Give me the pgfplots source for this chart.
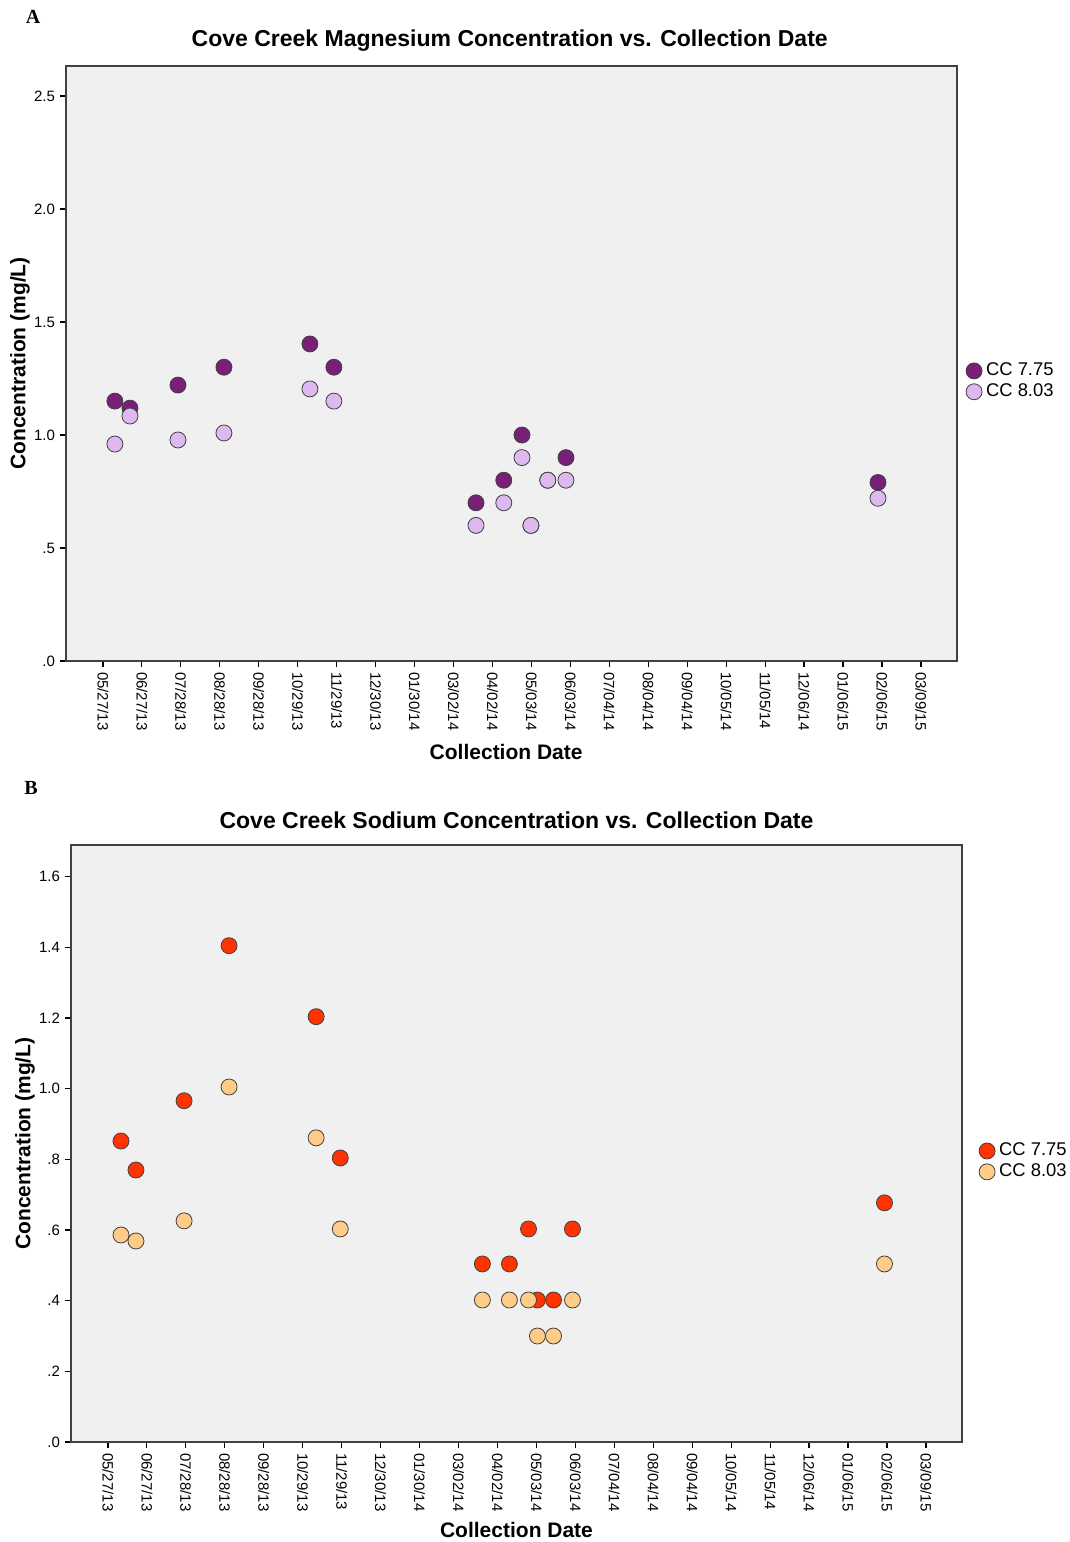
\documentclass[border=0pt]{standalone}
\usepackage{pgfplots}
\pgfplotsset{compat=1.18}
\usepackage{fontspec}
\setmainfont{Liberation Sans}
\newfontfamily\serifb{Liberation Serif}
\definecolor{bgc}{HTML}{F0F0F0}
\definecolor{axc}{HTML}{404040}
\definecolor{mgA}{HTML}{7A1F78}
\definecolor{mgB}{HTML}{DDB9EF}
\definecolor{naA}{HTML}{FF3300}
\definecolor{naB}{HTML}{FFCC88}
\pgfplotsset{ccstyle/.style={
  scale only axis, width=445.5pt,
  axis background/.style={fill=bgc},
  axis line style={draw=axc, line width=0.9pt},
  xmin=-29.4, xmax=679.7,
  xtick={0,31,62,93,124,155,186,217,248,279,310,341,372,403,434,465,496,527,558,589,620,651},
  xticklabels={05/27/13,06/27/13,07/28/13,08/28/13,09/28/13,10/29/13,11/29/13,12/30/13,01/30/14,03/02/14,04/02/14,05/03/14,06/03/14,07/04/14,08/04/14,09/04/14,10/05/14,11/05/14,12/06/14,01/06/15,02/06/15,03/09/15},
  tick align=outside, major tick length=3pt, tick pos=left,
  tick style={draw=black, line width=0.6pt},
  ticklabel style={font=\fontsize{7.5}{8}\selectfont},
  xticklabel style={rotate=-90, anchor=west, xshift=-1pt},
  yticklabel style={xshift=1pt},
  every axis title shift=0pt,
  title style={font=\fontsize{11.5}{13}\selectfont\bfseries, anchor=center},
  label style={font=\fontsize{10.5}{12}\selectfont\bfseries},
  xlabel={Collection Date},
  ylabel={Concentration (mg/L)},
  ylabel style={at={(axis description cs:-0.0516,0.5)}, anchor=center},
  legend style={draw=none, fill=none, font=\fontsize{9.2}{10}\selectfont, row sep=-1.5pt,
    legend cell align=left, /tikz/every even column/.append style={column sep=0pt}},
  legend cell align=left,
  /pgf/number format/assume math mode=true,
  clip=false,
}}
\begin{document}
\begin{tikzpicture}
\path[use as bounding box] (0,0) rectangle (535pt,771pt);
\node[font=\serifb\bfseries\fontsize{10}{12}\selectfont] at (16.5pt,762.5pt) {A};
\node[font=\serifb\bfseries\fontsize{10}{12}\selectfont] at (15.5pt,377pt) {B};
\begin{axis}[ccstyle,
  at={(33pt,440.5pt)}, anchor=south west, height=297.5pt,
  ymin=0, ymax=2.633,
  ytick={0,0.5,1,1.5,2,2.5},
  yticklabels={.0,.5,1.0,1.5,2.0,2.5},
  title={Cove Creek Magnesium Concentration vs. Collection Date},
  title style={at={(axis description cs:0.498,1.042)}},
  xlabel style={at={(axis description cs:0.494,-0.153)}, anchor=center},
  legend style={at={(1.003,0.47)}, anchor=west},
]
\addplot[only marks, mark=*, mark size=4pt, mark options={fill=mgA, draw=axc, line width=0.4pt}]
coordinates {(9.5,1.150) (21.5,1.119) (59.7,1.221) (96.3,1.300) (164.7,1.403) (183.8,1.300) (296.9,0.700) (319,0.800) (333.5,1.000) (340.6,0.600) (354,0.800) (368.5,0.900) (616.8,0.790)};
\addlegendentry{CC 7.75}
\addplot[only marks, mark=*, mark size=4pt, mark options={fill=mgB, draw=axc, line width=0.4pt}]
coordinates {(9.5,0.960) (21.5,1.084) (59.7,0.978) (96.3,1.009) (164.7,1.204) (183.8,1.150) (296.9,0.600) (319,0.700) (333.5,0.900) (340.6,0.600) (354,0.800) (368.5,0.800) (616.8,0.720)};
\addlegendentry{CC 8.03}
\end{axis}
\begin{axis}[ccstyle,
  at={(35.5pt,50pt)}, anchor=south west, height=298.5pt,
  ymin=0, ymax=1.69,
  ytick={0,0.2,0.4,0.6,0.8,1.0,1.2,1.4,1.6},
  yticklabels={.0,.2,.4,.6,.8,1.0,1.2,1.4,1.6},
  title={Cove Creek Sodium Concentration vs. Collection Date},
  title style={at={(axis description cs:0.5,1.042)}},
  xlabel style={at={(axis description cs:0.5,-0.147)}, anchor=center},
  legend style={at={(1.012,0.47)}, anchor=west},
]
\addplot[only marks, mark=*, mark size=4pt, mark options={fill=naA, draw=axc, line width=0.4pt}]
coordinates {(10.4,0.852) (22.3,0.770) (60.6,0.966) (96.4,1.405) (165.7,1.204) (184.9,0.804) (298,0.504) (319.5,0.504) (334.7,0.603) (341.8,0.402) (354.6,0.402) (369.7,0.603) (618,0.677)};
\addlegendentry{CC 7.75}
\addplot[only marks, mark=*, mark size=4pt, mark options={fill=naB, draw=axc, line width=0.4pt}]
coordinates {(10.4,0.586) (22.3,0.569) (60.6,0.626) (96.4,1.005) (165.7,0.861) (184.9,0.603) (298,0.402) (319.5,0.402) (334.7,0.402) (341.8,0.300) (354.6,0.300) (369.7,0.402) (618,0.504)};
\addlegendentry{CC 8.03}
\end{axis}
\end{tikzpicture}
\end{document}
